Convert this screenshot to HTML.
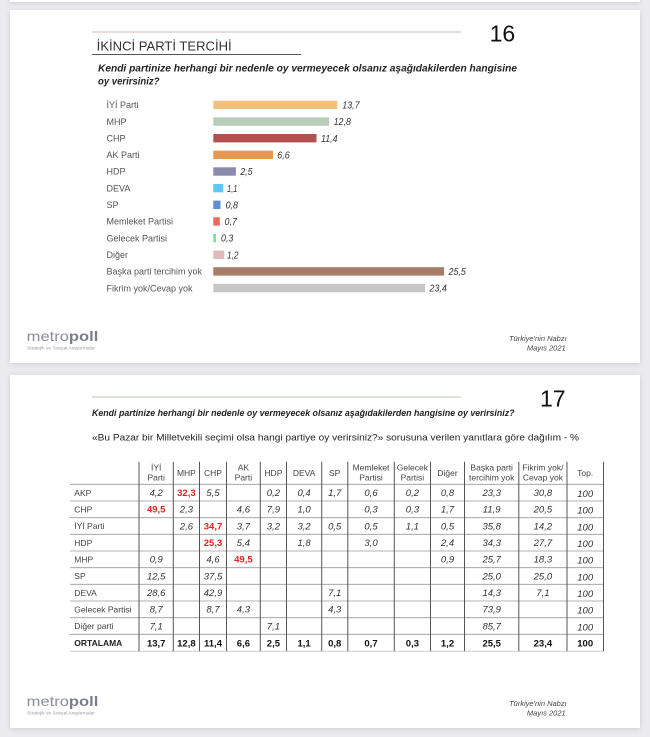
<!DOCTYPE html>
<html><head><meta charset="utf-8">
<style>
html,body{margin:0;padding:0;}
body{width:650px;height:737px;background:#ebebef;position:relative;overflow:hidden;font-family:"Liberation Sans",sans-serif;}
.slide{position:absolute;left:10px;width:630px;background:#fff;box-shadow:0 1px 5px rgba(0,0,0,0.13);}
svg{position:absolute;left:0;top:0;}
</style></head>
<body>
<div class="slide" style="top:-20px;height:22px;"></div>
<div class="slide" style="top:10px;height:353px;"></div>
<div class="slide" style="top:375px;height:353px;"></div>
<svg width="650" height="737" viewBox="0 0 650 737" xmlns="http://www.w3.org/2000/svg" font-family="Liberation Sans, sans-serif">
<!-- Slide 1 -->
<line x1="92" y1="32" x2="461" y2="32" stroke="#cdb9b2" stroke-width="1"/>
<text x="489.6" y="41.7" font-size="23" fill="#111">16</text>
<text x="96.7" y="50.5" font-size="12.5" fill="#333" textLength="135" lengthAdjust="spacingAndGlyphs">İKİNCİ PARTİ TERCİHİ</text>
<line x1="92" y1="54.5" x2="301" y2="54.5" stroke="#555" stroke-width="1"/>
<text x="98" y="71.5" font-size="10" font-weight="bold" font-style="italic" fill="#222" textLength="419" lengthAdjust="spacingAndGlyphs">Kendi partinize herhangi bir nedenle oy vermeyecek olsanız aşağıdakilerden hangisine</text>
<text x="98" y="84.5" font-size="10" font-weight="bold" font-style="italic" fill="#222" textLength="61.5" lengthAdjust="spacingAndGlyphs">oy verirsiniz?</text>

<g font-size="9" fill="#555">
<text x="106.5" y="108.1">İYİ Parti</text>
<text x="106.5" y="124.8">MHP</text>
<text x="106.5" y="141.4">CHP</text>
<text x="106.5" y="158.1">AK Parti</text>
<text x="106.5" y="174.7">HDP</text>
<text x="106.5" y="191.4">DEVA</text>
<text x="106.5" y="208">SP</text>
<text x="106.5" y="224.7">Memleket Partisi</text>
<text x="106.5" y="241.3">Gelecek Partisi</text>
<text x="106.5" y="258">Diğer</text>
<text x="106.5" y="274.6">Başka parti tercihim yok</text>
<text x="106.5" y="291.3">Fikrim yok/Cevap yok</text>
</g>
<g>
<rect x="213.3" y="100.7" width="124" height="8.4" fill="#efc17c"/>
<rect x="213.3" y="117.35" width="115.8" height="8.4" fill="#b6ceb9"/>
<rect x="213.3" y="134" width="103.2" height="8.4" fill="#b0514f"/>
<rect x="213.3" y="150.65" width="59.7" height="8.4" fill="#e8974f"/>
<rect x="213.3" y="167.3" width="22.6" height="8.4" fill="#8a8aae"/>
<rect x="213.3" y="183.95" width="10" height="8.4" fill="#5cc8f5"/>
<rect x="213.3" y="200.6" width="7.2" height="8.4" fill="#5b90d1"/>
<rect x="213.3" y="217.25" width="6.5" height="8.4" fill="#e8685b"/>
<rect x="213.3" y="233.9" width="2.7" height="8.4" fill="#6ee69b"/>
<rect x="213.3" y="250.55" width="10.9" height="8.4" fill="#dfbaba"/>
<rect x="213.3" y="267.2" width="230.8" height="8.4" fill="#a57d69"/>
<rect x="213.3" y="283.85" width="211.8" height="8.4" fill="#c6c6c6"/>
</g>
<g font-size="10" font-style="italic" fill="#333">
<text x="342.3" y="108.5" textLength="17.3" lengthAdjust="spacingAndGlyphs">13,7</text>
<text x="333.6" y="125.2" textLength="17.3" lengthAdjust="spacingAndGlyphs">12,8</text>
<text x="321" y="141.8" textLength="16.5" lengthAdjust="spacingAndGlyphs">11,4</text>
<text x="277.3" y="158.5" textLength="12.4" lengthAdjust="spacingAndGlyphs">6,6</text>
<text x="240.2" y="175.1" textLength="12.4" lengthAdjust="spacingAndGlyphs">2,5</text>
<text x="227" y="191.8" textLength="10.5" lengthAdjust="spacingAndGlyphs">1,1</text>
<text x="225.6" y="208.4" textLength="12.4" lengthAdjust="spacingAndGlyphs">0,8</text>
<text x="224.5" y="225.1" textLength="12.4" lengthAdjust="spacingAndGlyphs">0,7</text>
<text x="221" y="241.7" textLength="12.4" lengthAdjust="spacingAndGlyphs">0,3</text>
<text x="227" y="258.4" textLength="11.5" lengthAdjust="spacingAndGlyphs">1,2</text>
<text x="448.5" y="275" textLength="17.3" lengthAdjust="spacingAndGlyphs">25,5</text>
<text x="429.5" y="291.7" textLength="17.3" lengthAdjust="spacingAndGlyphs">23,4</text>
</g>

<!-- footer slide 1 -->
<text x="26.7" y="341" font-size="14" fill="#8a8c9a" textLength="71.6" lengthAdjust="spacingAndGlyphs">metro<tspan font-weight="bold" fill="#7b7d8c">poll</tspan></text>
<text x="27" y="349.5" font-size="4.5" fill="#9a9aa4" textLength="68" lengthAdjust="spacingAndGlyphs">Stratejik ve Sosyal Araştırmalar</text>
<text x="566.7" y="341" font-size="7.5" font-style="italic" fill="#444" text-anchor="end">Türkiye'nin Nabzı</text>
<text x="565.7" y="350.5" font-size="7.5" font-style="italic" fill="#444" text-anchor="end">Mayıs 2021</text>

<!-- Slide 2 -->
<line x1="92" y1="397" x2="461" y2="397" stroke="#cdb9b2" stroke-width="1"/>
<text x="540" y="406.7" font-size="23" fill="#111">17</text>
<text x="92" y="416" font-size="9.2" font-weight="bold" font-style="italic" fill="#222" textLength="422.5" lengthAdjust="spacingAndGlyphs">Kendi partinize herhangi bir nedenle oy vermeyecek olsanız aşağıdakilerden hangisine oy verirsiniz?</text>
<text x="92" y="440.3" font-size="9" fill="#222" textLength="487" lengthAdjust="spacingAndGlyphs">«Bu Pazar bir Milletvekili seçimi olsa hangi partiye oy verirsiniz?» sorusuna verilen yanıtlara göre dağılım - %</text>

<!-- table lines -->
<g stroke="#9a9a9a" stroke-width="0.8">
<line x1="70" y1="484.3" x2="603.5" y2="484.3"/>
<line x1="70" y1="501" x2="603.5" y2="501"/>
<line x1="70" y1="517.7" x2="603.5" y2="517.7"/>
<line x1="70" y1="534.3" x2="603.5" y2="534.3"/>
<line x1="70" y1="551" x2="603.5" y2="551"/>
<line x1="70" y1="567.7" x2="603.5" y2="567.7"/>
<line x1="70" y1="584.3" x2="603.5" y2="584.3"/>
<line x1="70" y1="601" x2="603.5" y2="601"/>
<line x1="70" y1="617.7" x2="603.5" y2="617.7"/>
<line x1="70" y1="634.3" x2="603.5" y2="634.3"/>
<line x1="70" y1="651.2" x2="603.5" y2="651.2" stroke="#c8c8c8"/>
</g>
<g stroke="#555" stroke-width="1">
<line x1="139" y1="461.7" x2="139" y2="651.2"/>
<line x1="173.3" y1="461.7" x2="173.3" y2="651.2"/>
<line x1="199.5" y1="461.7" x2="199.5" y2="651.2"/>
<line x1="226.5" y1="461.7" x2="226.5" y2="651.2"/>
<line x1="260.3" y1="461.7" x2="260.3" y2="651.2"/>
<line x1="286.5" y1="461.7" x2="286.5" y2="651.2"/>
<line x1="321.7" y1="461.7" x2="321.7" y2="651.2"/>
<line x1="347.8" y1="461.7" x2="347.8" y2="651.2"/>
<line x1="394.3" y1="461.7" x2="394.3" y2="651.2"/>
<line x1="430.5" y1="461.7" x2="430.5" y2="651.2"/>
<line x1="464.5" y1="461.7" x2="464.5" y2="651.2"/>
<line x1="518.8" y1="461.7" x2="518.8" y2="651.2"/>
<line x1="567" y1="461.7" x2="567" y2="651.2"/>
<line x1="603.5" y1="461.7" x2="603.5" y2="651.2"/>
</g>

<!-- headers -->
<g font-size="8.5" fill="#444" text-anchor="middle">
<text x="156.2" y="470.5">İYİ</text><text x="156.2" y="480.5">Parti</text>
<text x="186.4" y="476">MHP</text>
<text x="213" y="476">CHP</text>
<text x="243.4" y="470.5">AK</text><text x="243.4" y="480.5">Parti</text>
<text x="273.4" y="476">HDP</text>
<text x="304.1" y="476">DEVA</text>
<text x="334.7" y="476">SP</text>
<text x="371" y="470.5">Memleket</text><text x="371" y="480.5">Partisi</text>
<text x="412.4" y="470.5">Gelecek</text><text x="412.4" y="480.5">Partisi</text>
<text x="447.5" y="476">Diğer</text>
<text x="491.7" y="470.5">Başka parti</text><text x="491.7" y="480.5">tercihim yok</text>
<text x="542.9" y="470.5">Fikrim yok/</text><text x="542.9" y="480.5">Cevap yok</text>
<text x="585.2" y="476">Top.</text>
</g>

<!-- row labels -->
<g font-size="8.5" fill="#444">
<text x="74.3" y="495.8">AKP</text>
<text x="74.3" y="512.5">CHP</text>
<text x="74.3" y="529.2">İYİ Parti</text>
<text x="74.3" y="545.8">HDP</text>
<text x="74.3" y="562.5">MHP</text>
<text x="74.3" y="579.2">SP</text>
<text x="74.3" y="595.8">DEVA</text>
<text x="74.3" y="612.5">Gelecek Partisi</text>
<text x="74.3" y="629.2">Diğer parti</text>
<text x="74.3" y="645.8" font-weight="bold" fill="#222">ORTALAMA</text>
</g>

<!-- cell values -->
<g font-size="9.5" font-style="italic" fill="#333" text-anchor="middle">
<text x="156.2" y="496">4,2</text>
<text x="213" y="496">5,5</text>
<text x="273.4" y="496">0,2</text>
<text x="304.1" y="496">0,4</text>
<text x="334.7" y="496">1,7</text>
<text x="371" y="496">0,6</text>
<text x="412.4" y="496">0,2</text>
<text x="447.5" y="496">0,8</text>
<text x="491.7" y="496">23,3</text>
<text x="542.9" y="496">30,8</text>
<text x="585.2" y="497">100</text>
<text x="186.4" y="512.6">2,3</text>
<text x="243.4" y="512.6">4,6</text>
<text x="273.4" y="512.6">7,9</text>
<text x="304.1" y="512.6">1,0</text>
<text x="371" y="512.6">0,3</text>
<text x="412.4" y="512.6">0,3</text>
<text x="447.5" y="512.6">1,7</text>
<text x="491.7" y="512.6">11,9</text>
<text x="542.9" y="512.6">20,5</text>
<text x="585.2" y="513.6">100</text>
<text x="186.4" y="529.3">2,6</text>
<text x="243.4" y="529.3">3,7</text>
<text x="273.4" y="529.3">3,2</text>
<text x="304.1" y="529.3">3,2</text>
<text x="334.7" y="529.3">0,5</text>
<text x="371" y="529.3">0,5</text>
<text x="412.4" y="529.3">1,1</text>
<text x="447.5" y="529.3">0,5</text>
<text x="491.7" y="529.3">35,8</text>
<text x="542.9" y="529.3">14,2</text>
<text x="585.2" y="530.3">100</text>
<text x="243.4" y="546">5,4</text>
<text x="304.1" y="546">1,8</text>
<text x="371" y="546">3,0</text>
<text x="447.5" y="546">2,4</text>
<text x="491.7" y="546">34,3</text>
<text x="542.9" y="546">27,7</text>
<text x="585.2" y="547">100</text>
<text x="156.2" y="562.6">0,9</text>
<text x="213" y="562.6">4,6</text>
<text x="447.5" y="562.6">0,9</text>
<text x="491.7" y="562.6">25,7</text>
<text x="542.9" y="562.6">18,3</text>
<text x="585.2" y="563.6">100</text>
<text x="156.2" y="579.3">12,5</text>
<text x="213" y="579.3">37,5</text>
<text x="491.7" y="579.3">25,0</text>
<text x="542.9" y="579.3">25,0</text>
<text x="585.2" y="580.3">100</text>
<text x="156.2" y="596">28,6</text>
<text x="213" y="596">42,9</text>
<text x="334.7" y="596">7,1</text>
<text x="491.7" y="596">14,3</text>
<text x="542.9" y="596">7,1</text>
<text x="585.2" y="597">100</text>
<text x="156.2" y="612.6">8,7</text>
<text x="213" y="612.6">8,7</text>
<text x="243.4" y="612.6">4,3</text>
<text x="334.7" y="612.6">4,3</text>
<text x="491.7" y="612.6">73,9</text>
<text x="585.2" y="613.6">100</text>
<text x="156.2" y="629.3">7,1</text>
<text x="273.4" y="629.3">7,1</text>
<text x="491.7" y="629.3">85,7</text>
<text x="585.2" y="630.3">100</text>
</g>
<g font-size="9.5" font-weight="bold" fill="#e0241f" text-anchor="middle">
<text x="186.4" y="496">32,3</text>
<text x="156.2" y="512.6">49,5</text>
<text x="213" y="529.3">34,7</text>
<text x="213" y="546">25,3</text>
<text x="243.4" y="562.6">49,5</text>
</g>
<g font-size="9.5" font-weight="bold" fill="#111" text-anchor="middle">
<text x="156.2" y="646.5">13,7</text>
<text x="186.4" y="646.5">12,8</text>
<text x="213" y="646.5">11,4</text>
<text x="243.4" y="646.5">6,6</text>
<text x="273.4" y="646.5">2,5</text>
<text x="304.1" y="646.5">1,1</text>
<text x="334.7" y="646.5">0,8</text>
<text x="371" y="646.5">0,7</text>
<text x="412.4" y="646.5">0,3</text>
<text x="447.5" y="646.5">1,2</text>
<text x="491.7" y="646.5">25,5</text>
<text x="542.9" y="646.5">23,4</text>
<text x="585.2" y="646.5">100</text>
</g>

<!-- footer slide 2 -->
<text x="26.7" y="706" font-size="14" fill="#8a8c9a" textLength="71.6" lengthAdjust="spacingAndGlyphs">metro<tspan font-weight="bold" fill="#7b7d8c">poll</tspan></text>
<text x="27" y="714.5" font-size="4.5" fill="#9a9aa4" textLength="68" lengthAdjust="spacingAndGlyphs">Stratejik ve Sosyal Araştırmalar</text>
<text x="566.7" y="706" font-size="7.5" font-style="italic" fill="#444" text-anchor="end">Türkiye'nin Nabzı</text>
<text x="565.7" y="715.5" font-size="7.5" font-style="italic" fill="#444" text-anchor="end">Mayıs 2021</text>
</svg>
</body></html>
